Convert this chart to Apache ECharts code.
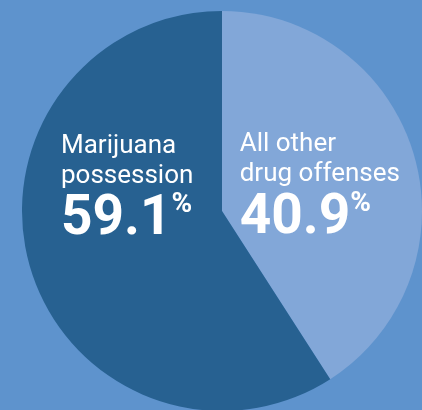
<!DOCTYPE html>
<html>
<head>
<meta charset="utf-8">
<script src="https://cdn.jsdelivr.net/npm/echarts@6/dist/echarts.min.js"></script>
<style>
html,body{margin:0;padding:0;background:#5e93cd;}
#c{width:422px;height:410px;}
</style>
</head>
<body>
<div id="c"></div>
<script>
var categories = ['All other\ndrug offenses', 'Marijuana\npossession'];
var values = [40.9, 59.1];
var colors = ['#82a7d8', '#276191'];
var labelOffsets = [[-1, 7], [4, -50]];

var chart = echarts.init(document.getElementById('c'), null, {renderer: 'canvas'});
var data = categories.map(function (n, i) {
  return {name: n, value: values[i], itemStyle: {color: colors[i]}, label: {offset: labelOffsets[i]}};
});
chart.setOption({
  backgroundColor: '#5e93cd',
  animation: false,
  series: [{
    type: 'pie',
    center: [222, 211],
    radius: [0, 200],
    startAngle: 90,
    clockwise: true,
    silent: true,
    avoidLabelOverlap: false,
    data: data,
    itemStyle: {borderWidth: 0},
    labelLine: {show: false},
    labelLayout: {hideOverlap: false},
    label: {
      show: true,
      position: 'inside',
      formatter: function (p) {
        var lines = p.name.split('\n').map(function (l) { return '{a|' + l + '}'; });
        return lines.join('\n') + '\n{b|' + p.value.toFixed(1) + '}{c|%}';
      },
      rich: {
        a: {fontFamily: 'Roboto', fontSize: 26, color: '#ffffff', lineHeight: 30, align: 'left'},
        b: {fontFamily: 'Roboto', fontWeight: 'bold', fontSize: 55, color: '#ffffff', lineHeight: 58, align: 'left'},
        c: {fontFamily: 'Roboto', fontWeight: 'bold', fontSize: 28, color: '#ffffff', lineHeight: 58, align: 'left', verticalAlign: 'top'}
      }
    }
  }]
});
</script>
</body>
</html>
